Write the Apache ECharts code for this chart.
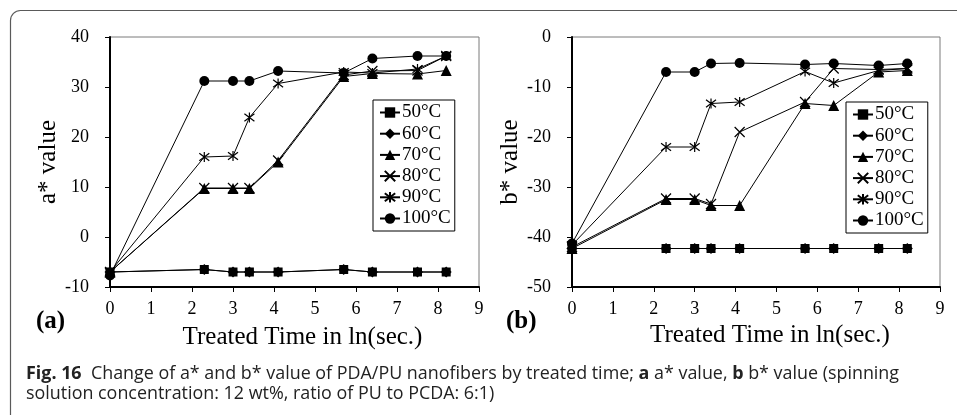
<!DOCTYPE html>
<html>
<head>
<meta charset="utf-8">
<script src="https://cdn.jsdelivr.net/npm/echarts@6/dist/echarts.min.js"></script>
<style>
  html, body { margin: 0; padding: 0; background: #fff; }
  #chart { width: 957px; height: 415px; }
</style>
</head>
<body>
<div id="chart"></div>
<script>
// Treated time, ln(seconds)
const lnTime = [0, 2.3, 3.0, 3.4, 4.1, 5.7, 6.4, 7.5, 8.2];
const temps = ['50°C', '60°C', '70°C', '80°C', '90°C', '100°C'];

// a* value per treatment temperature
const a50  = [-7, -6.5, -7, -7, -7, -6.5, -7, -7, -7];
const a60  = [-7, -6.5, -7, -7, -7, -6.5, -7, -7, -7];
const a70  = [-7, 9.7, 9.7, 9.7, 15.0, 32.1, 32.7, 32.6, 33.3];
const a80  = [-7, 9.8, 9.8, 9.8, 15.3, 32.4, 33.2, 33.3, 36.2];
const a90  = [-7, 16.0, 16.2, 23.9, 30.7, 33.0, 32.8, 33.6, 36.2];
const a100 = [-7.7, 31.2, 31.2, 31.2, 33.2, 32.8, 35.7, 36.2, 36.2];

// b* value per treatment temperature
const b50  = [-42.3, -42.3, -42.3, -42.3, -42.3, -42.3, -42.3, -42.3, -42.3];
const b60  = [-42.3, -42.3, -42.3, -42.3, -42.3, -42.3, -42.3, -42.3, -42.3];
const b70  = [-42.3, -32.5, -32.5, -33.7, -33.7, -13.3, -13.7, -7.0, -6.7];
const b80  = [-42.0, -32.3, -32.3, -33.4, -19.0, -13.0, -6.3, -6.5, -6.3];
const b90  = [-41.6, -22.0, -22.0, -13.3, -13.0, -6.9, -9.2, -6.7, -6.3];
const b100 = [-41.3, -7.0, -7.0, -5.3, -5.2, -5.5, -5.3, -5.7, -5.3];

const SERIF = "'Liberation Serif', 'DejaVu Serif', serif";
const CROSS = 'path://M0,0L10,10M10,0L0,10';
const STAR = 'path://M0,0L10,10M10,0L0,10M5,-1.5L5,11.5';

const markers = [
  { symbol: 'rect', size: 9, stroke: false },
  { symbol: 'diamond', size: 11, stroke: false },
  { symbol: 'triangle', size: 11, stroke: false },
  { symbol: CROSS, size: 10, stroke: true },
  { symbol: STAR, size: 10, stroke: true },
  { symbol: 'circle', size: 10, stroke: false }
];

function pairs(ys) { return lnTime.map((x, i) => [x, ys[i]]); }

function makeSeries(idx, sets) {
  return sets.map((ys, k) => {
    const m = markers[k];
    return {
      name: temps[k],
      type: 'line',
      xAxisIndex: idx,
      yAxisIndex: idx,
      data: pairs(ys),
      symbol: m.symbol,
      symbolSize: m.size,
      showAllSymbol: true,
      lineStyle: { color: '#000', width: 1 },
      itemStyle: m.stroke
        ? { color: 'rgba(0,0,0,0)', borderColor: '#000', borderWidth: 1.2 }
        : { color: '#000', borderColor: '#000', borderWidth: 0 },
      emphasis: { disabled: true },
      animation: false
    };
  });
}

function xAxis(idx, gap, shift) {
  return {
    type: 'value', gridIndex: idx, min: 0, max: 9, interval: 1,
    name: 'Treated Time in ln(sec.)', nameLocation: 'middle', nameGap: gap,
    nameTextStyle: { fontFamily: SERIF, fontSize: 25, color: '#000', padding: [0, 0, 0, shift] },
    axisLine: { show: true, onZero: false, lineStyle: { color: '#000', width: 2 } },
    axisTick: { show: true, length: 5, lineStyle: { color: '#000', width: 1 } },
    axisLabel: { fontFamily: SERIF, fontSize: 18, color: '#000', margin: 13 },
    splitLine: { show: false }
  };
}

function yAxis(idx, name, min, max, gap) {
  return {
    type: 'value', gridIndex: idx, min: min, max: max, interval: 10,
    name: name, nameLocation: 'middle', nameGap: gap, nameRotate: 90,
    nameTextStyle: { fontFamily: SERIF, fontSize: 25, color: '#000' },
    axisLine: { show: true, onZero: false, lineStyle: { color: '#000', width: 2 } },
    axisTick: { show: true, length: 5, lineStyle: { color: '#000', width: 1 } },
    axisLabel: { fontFamily: SERIF, fontSize: 18, color: '#000', margin: 21 },
    splitLine: { show: false }
  };
}

function legend(left, top) {
  return {
    orient: 'vertical', left: left, top: top,
    data: temps,
    itemWidth: 20, itemHeight: 13, itemGap: 2.2,
    padding: [3, 4, 3, 6],
    borderColor: '#000', borderWidth: 1, borderRadius: 0,
    backgroundColor: '#fff',
    selectedMode: false,
    textStyle: { fontFamily: SERIF, fontSize: 19, lineHeight: 18, color: '#000', padding: [0, 0, 0, -3] }
  };
}

const chart = echarts.init(document.getElementById('chart'), null, { renderer: 'canvas' });

chart.setOption({
  backgroundColor: '#fff',
  animation: false,
  grid: [
    { left: 110, top: 37, right: 478, bottom: 128, show: true, borderColor: '#7a7a7a', borderWidth: 1, backgroundColor: 'transparent' },
    { left: 572, top: 37, right: 17, bottom: 128, show: true, borderColor: '#7a7a7a', borderWidth: 1, backgroundColor: 'transparent' }
  ],
  xAxis: [xAxis(0, 38, 16), xAxis(1, 31, 28)],
  yAxis: [yAxis(0, 'a* value', -10, 40, 45), yAxis(1, 'b* value', -50, 0, 46)],
  legend: [legend(373, 100), legend(846, 102)],
  series: [].concat(
    makeSeries(0, [a50, a60, a70, a80, a90, a100]),
    makeSeries(1, [b50, b60, b70, b80, b90, b100])
  ),
  graphic: [
    {
      type: 'rect', silent: true, z: -1,
      shape: { x: 10.5, y: 10.5, width: 1000, height: 460, r: 10 },
      style: { fill: 'none', stroke: '#5a5a5a', lineWidth: 1.2 }
    },
    {
      type: 'text', left: 36, top: 309, silent: true,
      style: { text: '(a)', font: "bold 25px 'Liberation Serif', serif", fill: '#000' }
    },
    {
      type: 'text', left: 506, top: 309, silent: true,
      style: { text: '(b)', font: "bold 25px 'Liberation Serif', serif", fill: '#000' }
    },
    {
      type: 'text', left: 26, top: 364, silent: true,
      style: {
        text: '{b|Fig. 16}  Change of a* and b* value of PDA/PU nanofibers by treated time; {b|a} a* value, {b|b} b* value (spinning\nsolution concentration: 12 wt%, ratio of PU to PCDA: 6:1)',
        font: "17.9px 'Open Sans', sans-serif",
        fill: '#222',
        lineHeight: 20,
        rich: {
          b: { font: "bold 17.9px 'Open Sans', sans-serif", fill: '#222', lineHeight: 20 }
        }
      }
    }
  ]
});
</script>
</body>
</html>
